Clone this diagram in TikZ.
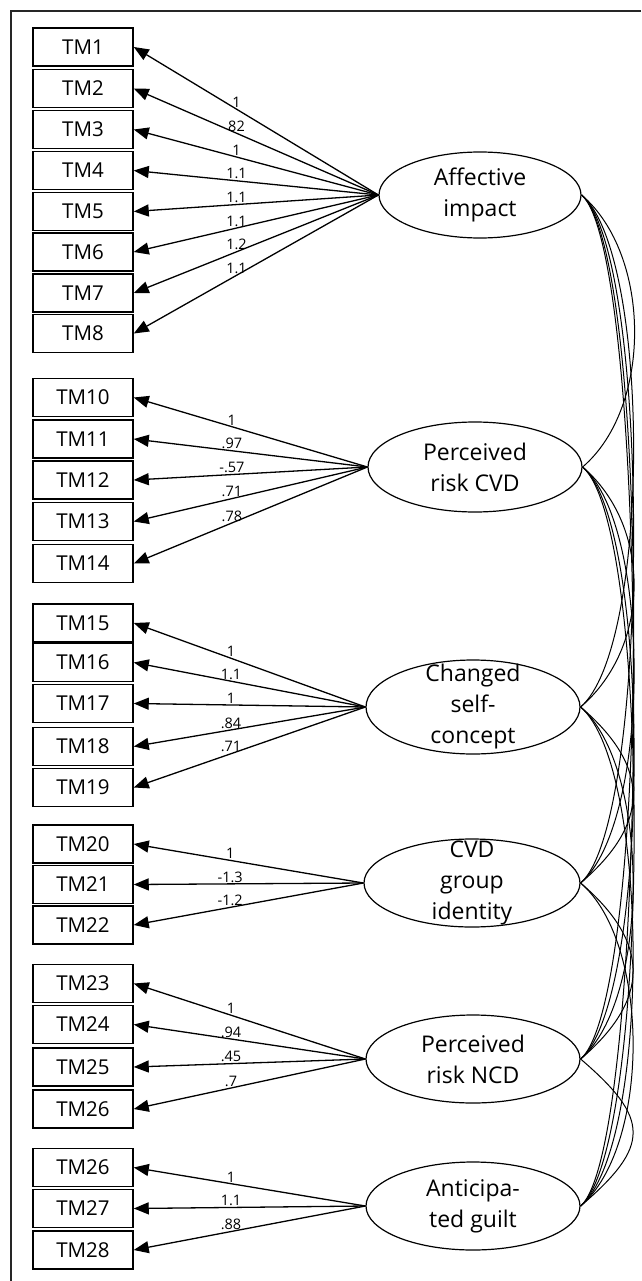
\documentclass[tikz,border=0pt]{standalone}
\usepackage{fontspec}
\setmainfont{Open Sans}
\usetikzlibrary{arrows.meta,shapes.geometric}

\tikzset{
  indicator/.style={draw, line width=1.5pt, minimum width=100pt, minimum height=38pt, inner sep=0pt, font=\fontsize{20.5}{24}\selectfont},
  factor/.style={draw, ellipse, line width=1.2pt, inner sep=0pt},
  factorlabel/.style={align=center, inner sep=0pt, font=\fontsize{23}{31}\selectfont},
  loading/.style={-{Triangle[length=15pt,width=12pt]}, line width=1.3pt},
  coef/.style={pos=.58, above, inner sep=1pt, font=\fontsize{14.5}{14.5}\selectfont},
  covar/.style={line width=1pt}
}

\begin{document}
\begin{tikzpicture}[x=1pt,y=-1pt]
  \useasboundingbox (0,0) rectangle (641,1281);
  \draw[line width=2pt, black!85] (641,11) -- (11,11) -- (11,1281);
%
  % latent factors
  \node[factor, minimum width=202pt, minimum height=86pt] (f1) at (480,195) {};
  \node[factorlabel] (f1t) at (f1) {Affective\\impact};
  \node[factor, minimum width=214pt, minimum height=90pt] (f2) at (475,467) {};
  \node[factorlabel] (f2t) at (f2) {Perceived\\risk CVD};
  \node[factor, minimum width=214pt, minimum height=94pt] (f3) at (473,707) {};
  \node[factorlabel] (f3t) at (f3) {Changed\\self-\\concept};
  \node[factor, minimum width=216pt, minimum height=88pt] (f4) at (472,883) {};
  \node[factorlabel] (f4t) at (f4) {CVD\\group\\identity};
  \node[factor, minimum width=214pt, minimum height=88pt] (f5) at (473,1059) {};
  \node[factorlabel] (f5t) at (f5) {Perceived\\risk NCD};
  \node[factor, minimum width=214pt, minimum height=88pt] (f6) at (473,1206) {};
  \node[factorlabel] (f6t) at (f6) {Anticipa-\\ted guilt};
%
  % indicators and loadings
  \foreach \i/\y/\c in {1/47/1, 2/88.5/82, 3/129.5/1, 4/170.5/1.1, 5/211.5/1.1, 6/252/1.1, 7/293/1.2, 8/333.5/1.1} {
    \node[indicator] (tm\i) at (83,\y) {TM\i};
    \draw[loading] (f1.west) -- (tm\i.east) node[coef] {\c};
  }
  \foreach \i/\y/\c in {10/397.5/1, 11/439/.97, 12/480/-.57, 13/521.5/.71, 14/563.5/.78} {
    \node[indicator] (tm\i) at (83,\y) {TM\i};
    \draw[loading] (f2.west) -- (tm\i.east) node[coef] {\c};
  }
  \foreach \i/\y/\c in {15/623/1, 16/662.5/1.1, 17/703.5/1, 18/746.5/.84, 19/787.5/.71} {
    \node[indicator] (tm\i) at (83,\y) {TM\i};
    \draw[loading] (f3.west) -- (tm\i.east) node[coef] {\c};
  }
  \foreach \i/\y/\c in {20/844/1, 21/884.5/-1.3, 22/925/-1.2} {
    \node[indicator] (tm\i) at (83,\y) {TM\i};
    \draw[loading] (f4.west) -- (tm\i.east) node[coef] {\c};
  }
  \foreach \i/\y/\c in {23/983.5/1, 24/1024.5/.94, 25/1067/.45, 26/1109/.7} {
    \node[indicator] (tm\i) at (83,\y) {TM\i};
    \draw[loading] (f5.west) -- (tm\i.east) node[coef] {\c};
  }
  \foreach \i/\y/\c in {26/1167.5/1, 27/1208.5/1.1, 28/1250/.88} {
    \node[indicator] (ag\i) at (83,\y) {TM\i};
    \draw[loading] (f6.west) -- (ag\i.east) node[coef] {\c};
  }
%
  % covariances
  \foreach \a in {1,...,5} {
    \pgfmathtruncatemacro\from{\a+1}
    \foreach \b in {\from,...,6}
      \draw[covar] (f\a.east) .. controls +(70,60) and +(70,-60) .. (f\b.east);
  }
\end{tikzpicture}
\end{document}
